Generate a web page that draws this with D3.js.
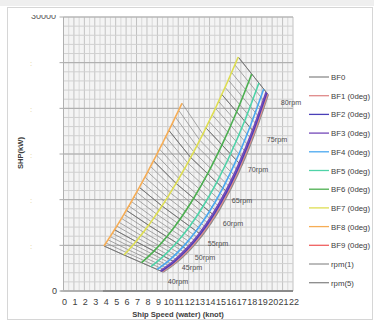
<!DOCTYPE html>
<html>
<head>
<meta charset="utf-8">
<script src="https://cdn.jsdelivr.net/npm/d3@7"></script>
<style>
  body { margin: 0; background: #fff; }
  svg { display: block; font-family: "Liberation Sans", Arial, sans-serif; }
</style>
</head>
<body>
<svg width="374" height="324"></svg>
<script>
// rpm steps (1 rpm) and the 5 rpm subset
const rpmAll = [40,41,42,43,44,45,46,47,48,49,50,51,52,53,54,55,56,57,58,59,60,
  61,62,63,64,65,66,67,68,69,70,71,72,73,74,75,76,77,78,79,80];
const rpmFive = [40,45,50,55,60,65,70,75,80];
const rpmBF8 = [40,41,42,43,44,45,46,47,48,49,50,51,52,53,54,55,56,57,58,59,60,
  61,62,63,64,65,66,67,68,69];

// BF0 (calm) - every rpm
const bf0Speed = [9.54,9.79,10.04,10.29,10.53,10.78,11.03,11.28,11.53,11.78,12.03,12.28,12.53,12.78,13.03,
  13.29,13.54,13.79,14.04,14.29,14.55,14.80,15.05,15.30,15.55,15.81,16.06,16.31,16.57,16.82,17.07,
  17.33,17.58,17.84,18.09,18.34,18.60,18.85,19.11,19.36,19.62];
const bf0Power = [2080,2261,2452,2654,2868,3094,3331,3582,3845,4122,4412,4717,5036,5369,5719,6084,6464,
  6862,7276,7707,8158,8623,9109,9614,10138,10681,11246,11831,12436,13063,13710,14384,15078,15795,
  16537,17302,18091,18907,19747,20614,21500];

// BF7 - every rpm
const bf7Speed = [5.80,6.02,6.25,6.48,6.71,6.95,7.18,7.42,7.67,7.91,8.16,8.41,8.66,8.92,9.18,9.44,9.71,
  9.97,10.24,10.51,10.79,11.06,11.34,11.62,11.91,12.19,12.48,12.77,13.06,13.36,13.65,13.95,14.26,
  14.56,14.87,15.17,15.49,15.80,16.11,16.43,16.75];
const bf7Power = [3942,4214,4497,4792,5099,5418,5749,6093,6449,6819,7200,7596,8005,8427,8863,9314,9779,
  10257,10750,11258,11781,12318,12871,13439,14023,14623,15238,15870,16517,17181,17863,18561,19274,
  20005,20754,21520,22303,23104,23923,24761,25616];

// BF8 - every rpm, up to 69 rpm
const bf8Speed = [3.88,4.07,4.27,4.47,4.68,4.89,5.11,5.33,5.56,5.79,6.02,6.26,6.51,6.75,7.01,7.27,7.53,
  7.80,8.07,8.34,8.62,8.91,9.20,9.50,9.79,10.10,10.41,10.72,11.04,11.36];
const bf8Power = [4928,5257,5600,5956,6326,6709,7107,7519,7945,8387,8842,9313,9799,10301,10818,11351,
  11900,12464,13045,13643,14257,14888,15536,16201,16883,17584,18301,19037,19790,20560];

// BF1..BF6 - every 5 rpm
const bf1Speed = [9.47,10.70,11.95,13.21,14.47,15.74,17.00,18.28,19.56];
const bf1Power = [2117,3140,4468,6149,8230,10760,13793,17386,21582];
const bf2Speed = [9.37,10.61,11.86,13.12,14.38,15.65,16.92,18.20,19.49];
const bf2Power = [2164,3199,4537,6229,8321,10858,13897,17492,21685];
const bf3Speed = [9.28,10.51,11.76,13.02,14.29,15.56,16.83,18.12,19.42];
const bf3Power = [2210,3257,4607,6310,8412,10957,14001,17597,21788];
const bf4Speed = [8.98,10.21,11.45,12.71,13.99,15.27,16.56,17.86,19.19];
const bf4Power = [2359,3443,4830,6569,8701,11272,14333,17935,22117];
const bf5Speed = [8.38,9.59,10.83,12.10,13.38,14.69,16.01,17.36,18.73];
const bf5Power = [2657,3814,5276,7085,9281,11903,14997,18610,22776];
const bf6Speed = [7.48,8.67,9.90,11.17,12.48,13.82,15.19,16.60,18.04];
const bf6Power = [3104,4372,5945,7861,10151,12849,15994,19622,23764];
const bf9Speed = [];
const bf9Power = [];

// zero line along the axis
const zeroSpeed = [3.78, 22];
const zeroPower = [0, 0];

// rpm labels
const rpmLabels = ['40rpm','45rpm','50rpm','55rpm','60rpm','65rpm','70rpm','75rpm','80rpm'];
const rpmLabelSpeed = [10.98,12.32,13.57,14.81,16.25,17.11,18.65,20.47,21.81];
const rpmLabelPower = [986,2519,3614,5147,7337,9855,13250,16535,20586];

const xTicks = d3.range(0, 23);
const yTicks = [0, 5000, 10000, 15000, 20000, 25000, 30000];
const legendNames = ['BF0','BF1 (0deg)','BF2 (0deg)','BF3 (0deg)','BF4 (0deg)','BF5 (0deg)',
  'BF6 (0deg)','BF7 (0deg)','BF8 (0deg)','BF9 (0deg)','rpm(1)','rpm(5)'];
const bfColors = ['#8c8c8c','#e08a8a','#4a3fb8','#7448b8','#4aa8f0','#4fd3a8','#4caf50','#dede52','#f6ad55','#f06060'];

const series = [
  { rpm: rpmAll, speed: bf0Speed, power: bf0Power },
  { rpm: rpmFive, speed: bf1Speed, power: bf1Power },
  { rpm: rpmFive, speed: bf2Speed, power: bf2Power },
  { rpm: rpmFive, speed: bf3Speed, power: bf3Power },
  { rpm: rpmFive, speed: bf4Speed, power: bf4Power },
  { rpm: rpmFive, speed: bf5Speed, power: bf5Power },
  { rpm: rpmFive, speed: bf6Speed, power: bf6Power },
  { rpm: rpmAll, speed: bf7Speed, power: bf7Power },
  { rpm: rpmBF8, speed: bf8Speed, power: bf8Power },
  { rpm: [], speed: bf9Speed, power: bf9Power }
].map((s, i) => ({
  name: legendNames[i],
  color: bfColors[i],
  pts: s.speed.map((v, j) => ({ rpm: s.rpm[j], speed: v, power: s.power[j] }))
}));

const svg = d3.select('svg');
const x = d3.scaleLinear().domain([0, 22]).range([63.5, 293]);
const y = d3.scaleLinear().domain([0, 30000]).range([291, 17]);

// outer frame
svg.append('rect').attr('x', 0).attr('y', 0).attr('width', 374).attr('height', 6).attr('fill', '#efefef');
svg.append('rect').attr('x', 7.5).attr('y', 7.5).attr('width', 365).attr('height', 312)
  .attr('fill', 'none').attr('stroke', '#d6d6d6');

// grid
const grid = svg.append('g');
grid.append('rect').attr('x', x(0)).attr('y', y(30000))
  .attr('width', x(22) - x(0)).attr('height', y(0) - y(30000)).attr('fill', '#f4f4f4');
grid.selectAll('.vmin').data(d3.range(0, 22.01, 0.5)).enter().append('line')
  .attr('x1', d => x(d)).attr('x2', d => x(d)).attr('y1', y(0)).attr('y2', y(30000))
  .attr('stroke', d => d % 1 === 0 ? '#c2c2c2' : '#d8d8d8').attr('stroke-width', 1);
grid.selectAll('.hmin').data(d3.range(0, 30001, 1000)).enter().append('line')
  .attr('x1', x(0)).attr('x2', x(22)).attr('y1', d => y(d)).attr('y2', d => y(d))
  .attr('stroke', '#d0d0d0').attr('stroke-width', 1);
grid.selectAll('.hmaj').data(yTicks).enter().append('line')
  .attr('x1', x(0) - 4).attr('x2', x(22)).attr('y1', d => y(d)).attr('y2', d => y(d))
  .attr('stroke', '#aaaaaa').attr('stroke-width', 1);

// axes lines
svg.append('line').attr('x1', x(0) - 3).attr('x2', x(22)).attr('y1', y(0)).attr('y2', y(0))
  .attr('stroke', '#9a9a9a');
svg.append('line').attr('x1', x(0)).attr('x2', x(0)).attr('y1', y(0)).attr('y2', y(30000))
  .attr('stroke', '#b0b0b0');

// x tick labels
svg.append('g').selectAll('text').data(xTicks).enter().append('text')
  .attr('x', d => x(d) + 1).attr('y', 305).attr('text-anchor', 'middle')
  .attr('font-size', 9).attr('fill', '#404040').text(d => d);

// y labels: 0 visible, top one cut off, the rest almost invisible
const defs = svg.append('defs');
defs.append('clipPath').attr('id', 'topclip').append('rect')
  .attr('x', 0).attr('y', 15).attr('width', 60).attr('height', 300);
svg.append('text').attr('x', 57).attr('y', y(0) + 3).attr('text-anchor', 'end')
  .attr('font-size', 9).attr('fill', '#404040').text('0');
svg.append('g').attr('clip-path', 'url(#topclip)')
  .append('text').attr('x', 56).attr('y', 18.5).attr('text-anchor', 'end')
  .attr('font-size', 9).attr('fill', '#555').text(d3.format('d')(yTicks[yTicks.length - 1]));
svg.append('g').selectAll('text').data(yTicks.slice(1, -1)).enter().append('text')
  .attr('x', 31).attr('y', d => y(d) + 3.5).attr('text-anchor', 'middle')
  .attr('font-size', 8).attr('fill', '#e3cf93').text(':');

// axis titles
svg.append('text').attr('x', 178).attr('y', 317).attr('text-anchor', 'middle')
  .attr('font-size', 7.6).attr('font-weight', 'bold').attr('fill', '#404040')
  .text('Ship Speed (water) (knot)');
svg.append('text').attr('transform', 'translate(23,153) rotate(-90)').attr('text-anchor', 'middle')
  .attr('font-size', 7.6).attr('font-weight', 'bold').attr('fill', '#404040').text('SHP(kW)');

const line = d3.line().x(d => x(d.speed)).y(d => y(d.power));
const smooth = d3.line().x(d => x(d.speed)).y(d => y(d.power)).curve(d3.curveCatmullRom);

// zero line
svg.append('path')
  .datum(zeroSpeed.map((v, i) => ({ speed: v, power: zeroPower[i] })))
  .attr('d', line).attr('fill', 'none').attr('stroke', '#7f7f7f').attr('stroke-width', 1.6);

// rpm(1) lines: BF8 (if any) -> BF7 -> BF0
const ptAt = (s, r) => s.pts.find(p => p.rpm === r);
const rpm1Lines = rpmAll.map(r => [ptAt(series[8], r), ptAt(series[7], r), ptAt(series[0], r)].filter(Boolean));
svg.append('g').selectAll('path').data(rpm1Lines).enter().append('path')
  .attr('d', line).attr('fill', 'none').attr('stroke', '#8a8a8a').attr('stroke-width', 0.75);

// rpm(5) lines through every BF curve
const rpm5Lines = rpmFive.map(r => [8, 7, 6, 5, 4, 3, 2, 1, 0].map(i => ptAt(series[i], r)).filter(Boolean));
svg.append('g').selectAll('path').data(rpm5Lines).enter().append('path')
  .attr('d', line).attr('fill', 'none').attr('stroke', '#777777').attr('stroke-width', 1);

// BF curves
svg.append('g').selectAll('path').data(series.filter(s => s.pts.length)).enter().append('path')
  .attr('d', d => smooth(d.pts)).attr('fill', 'none')
  .attr('stroke', d => d.color).attr('stroke-width', 1.6);

// rpm labels
svg.append('g').selectAll('text').data(rpmLabels).enter().append('text')
  .attr('x', (d, i) => x(rpmLabelSpeed[i])).attr('y', (d, i) => y(rpmLabelPower[i]) + 2.5)
  .attr('text-anchor', 'middle').attr('font-size', 7.2).attr('fill', '#505050').text(d => d);

// legend
const legendColors = bfColors.concat(['#555555', '#8a8a8a']);
const legendWidths = [1.3,1.3,1.3,1.3,1.3,1.3,1.3,1.3,1.3,1.3,0.8,1.3];
const lg = svg.append('g').selectAll('g').data(legendNames).enter().append('g')
  .attr('transform', (d, i) => 'translate(309,' + (77 + i * 18.7) + ')');
lg.append('line').attr('x1', 0).attr('x2', 20).attr('y1', 0).attr('y2', 0)
  .attr('stroke', (d, i) => legendColors[i]).attr('stroke-width', (d, i) => legendWidths[i]);
lg.append('text').attr('x', 22).attr('y', 3).attr('font-size', 7.8).attr('fill', '#404040').text(d => d);
</script>
</body>
</html>
